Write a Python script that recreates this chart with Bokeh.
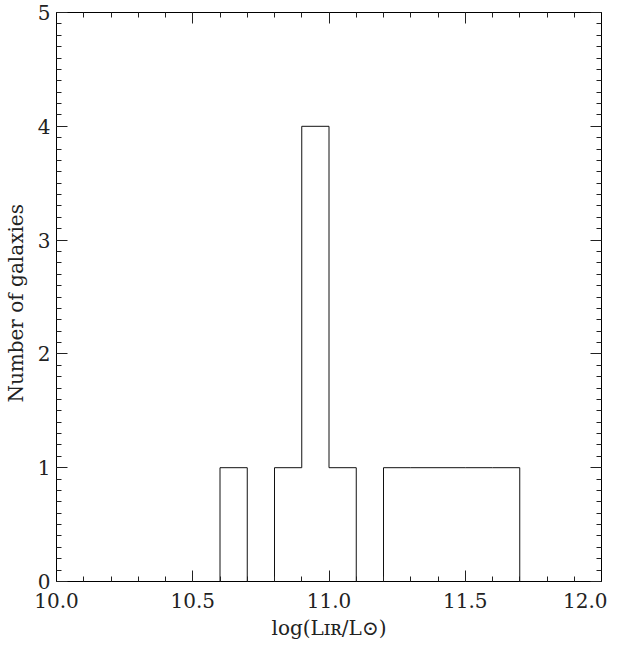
from bokeh.plotting import figure
from bokeh.models import Range1d, LinearAxis, SingleIntervalTicker, PrintfTickFormatter
from bokeh.embed import file_html
from bokeh.resources import INLINE

# Histogram data (bins of width 0.1 in log(L_IR/L_sun))
bin_edges = [10.0, 10.1, 10.2, 10.3, 10.4, 10.5, 10.6, 10.7, 10.8, 10.9, 11.0,
             11.1, 11.2, 11.3, 11.4, 11.5, 11.6, 11.7, 11.8, 11.9, 12.0]
counts = [0, 0, 0, 0, 0, 0, 1, 0, 1, 4, 1, 0, 1, 1, 1, 1, 1, 0, 0, 0]

x_label = "log(Lɪʀ/L⊙)"
y_label = "Number  of  galaxies"

FONT = "DejaVu Serif"

p = figure(width=607, height=642, output_backend="svg", toolbar_location=None,
           x_range=Range1d(10.0, 12.0), y_range=Range1d(0, 5),
           min_border_left=40, min_border_right=6, min_border_top=12,
           min_border_bottom=50, x_axis_type=None, y_axis_type=None)
p.xgrid.visible = False
p.ygrid.visible = False
p.outline_line_color = "black"
p.background_fill_color = "white"
p.border_fill_color = "white"

xt = SingleIntervalTicker(interval=0.5, num_minor_ticks=5)
yt = SingleIntervalTicker(interval=1, num_minor_ticks=10)


def style(ax, show_labels):
    ax.major_tick_in = 11
    ax.major_tick_out = 0
    ax.minor_tick_in = 5
    ax.minor_tick_out = 0
    ax.axis_line_color = "black"
    ax.major_tick_line_color = "#222222"
    ax.minor_tick_line_color = "#222222"
    ax.major_label_text_font = FONT
    ax.axis_label_text_font = FONT
    ax.axis_label_text_font_style = "normal"
    ax.axis_label_text_color = "#222222"
    if show_labels:
        ax.major_label_text_color = "#222222"
        ax.major_label_text_font_size = "20px"
        ax.axis_label_text_font_size = "20px"
    else:
        ax.major_label_text_color = None
        ax.major_label_text_font_size = "0px"
        ax.major_label_standoff = 0


xb = LinearAxis(ticker=xt, formatter=PrintfTickFormatter(format="%.1f"), axis_label=x_label)
style(xb, True)
xb.major_label_standoff = 11
xb.axis_label_standoff = 5
p.add_layout(xb, "below")

yl = LinearAxis(ticker=yt, formatter=PrintfTickFormatter(format="%d"), axis_label=y_label)
style(yl, True)
yl.major_label_standoff = 6
yl.axis_label_standoff = 7
p.add_layout(yl, "left")

xa = LinearAxis(ticker=xt)
style(xa, False)
p.add_layout(xa, "above")

yr = LinearAxis(ticker=yt)
style(yr, False)
p.add_layout(yr, "right")

# step outline of histogram
step_x = bin_edges
step_y = counts + [counts[-1]]
p.step(x=step_x, y=step_y, mode="after", line_color="#111111", line_width=1)

open("out.html", "w").write(file_html(p, INLINE))
